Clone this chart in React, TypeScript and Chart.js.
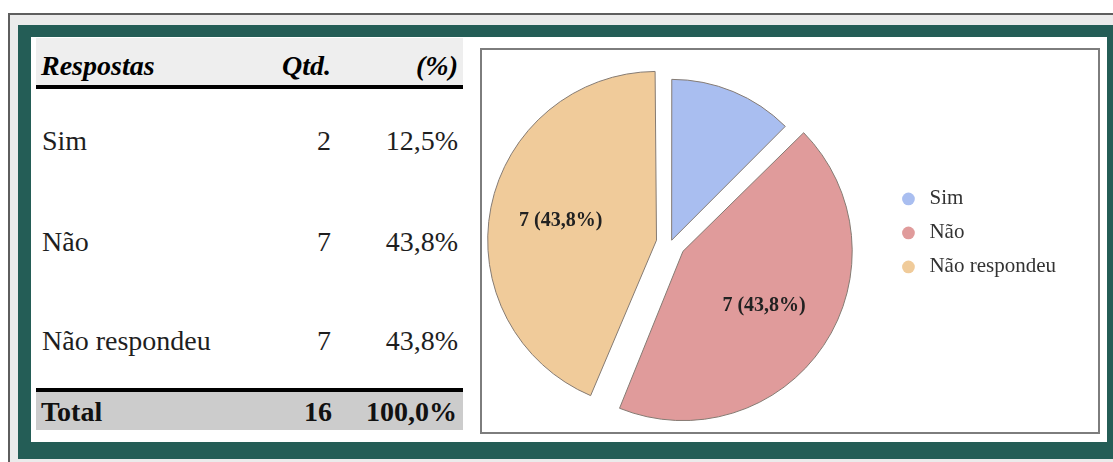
import React, { useEffect, useRef } from 'react';
import Chart from 'chart.js/auto';

const categories = ['Sim', 'Não', 'Não respondeu'];
const counts = [2, 7, 7];
const sliceColors = ['#a9bef0', '#e09b9b', '#f0cb9a'];
const sliceOffsets = [12, 60, 57];
const headers = ['Respostas', 'Qtd.', '(%)'];
const totalLabel = 'Total';

const SERIF = '"Liberation Serif", "Times New Roman", serif';
const TEAL = '#245d56';

const total = counts.reduce((a, b) => a + b, 0);
const pct = (v: number) => ((v * 100) / total).toFixed(1).replace('.', ',') + '%';

type TxtProps = {
  x: number;
  baseline: number;
  align?: 'left' | 'right';
  bold?: boolean;
  italic?: boolean;
  size?: number;
  color?: string;
  children: React.ReactNode;
};

function Txt({ x, baseline, align = 'left', bold, italic, size = 28, color = '#1e1e1e', children }: TxtProps) {
  const lh = Math.round(size * 1.15);
  const top = baseline - ((lh - size * 1.107) / 2 + size * 0.891);
  const style: React.CSSProperties = {
    position: 'absolute',
    top,
    lineHeight: lh + 'px',
    fontSize: size,
    fontFamily: SERIF,
    fontWeight: bold ? 'bold' : 'normal',
    fontStyle: italic ? 'italic' : 'normal',
    color,
    whiteSpace: 'nowrap',
  };
  if (align === 'left') {
    style.left = x;
  } else {
    style.left = x - 300;
    style.width = 300;
    style.textAlign = 'right';
  }
  return <div style={style}>{children}</div>;
}

const sliceLabelPlugin = {
  id: 'sliceLabels',
  afterDatasetsDraw(chart: any) {
    const ctx = chart.ctx;
    const meta = chart.getDatasetMeta(0);
    const data = chart.data.datasets[0].data as number[];
    const sum = data.reduce((a, b) => a + b, 0);
    ctx.save();
    ctx.font = 'bold 20px ' + SERIF;
    ctx.fillStyle = '#222';
    ctx.textAlign = 'center';
    ctx.textBaseline = 'middle';
    meta.data.forEach((arc: any, i: number) => {
      const share = data[i] / sum;
      if (share < 0.2) return;
      const { x, y, startAngle, endAngle, outerRadius } = arc.getProps(
        ['x', 'y', 'startAngle', 'endAngle', 'outerRadius'],
        true
      );
      const mid = (startAngle + endAngle) / 2;
      const off = (arc.options.offset || 0) / 4;
      const r = off + outerRadius * 0.61;
      const label = `${data[i]} (${(share * 100).toFixed(1).replace('.', ',')}%)`;
      ctx.fillText(label, x + Math.cos(mid) * r, y + Math.sin(mid) * r);
    });
    ctx.restore();
  },
};

export default function App() {
  const ref = useRef<HTMLCanvasElement>(null);

  useEffect(() => {
    const canvas = ref.current!;
    const baseGen = (Chart as any).overrides.pie.plugins.legend.labels.generateLabels;
    const chart = new Chart(canvas, {
      type: 'pie',
      data: {
        labels: categories,
        datasets: [
          {
            data: counts,
            backgroundColor: sliceColors,
            borderColor: '#857b73',
            borderWidth: 1,
            offset: sliceOffsets,
            radius: 160,
          } as any,
        ],
      },
      options: {
        responsive: false,
        animation: false,
        events: [],
        layout: { padding: { top: 4, bottom: 0, left: 0, right: 0 } },
        plugins: {
          tooltip: { enabled: false },
          legend: {
            position: 'right',
            align: 'start',
            title: {
              display: true,
              text: '',
              font: { size: 12 },
              padding: { top: 107, bottom: 0 } as any,
            },
            labels: {
              usePointStyle: true,
              pointStyle: 'circle',
              boxWidth: 21,
              boxHeight: 9,
              padding: 13,
              color: '#333',
              font: { family: SERIF, size: 21 },
              generateLabels: (c: any) =>
                baseGen(c).map((l: any) => ({ ...l, lineWidth: 0, strokeStyle: 'rgba(0,0,0,0)' })),
            },
          },
        },
      } as any,
      plugins: [sliceLabelPlugin],
    });
    return () => chart.destroy();
  }, []);

  const rowBaselines = [150, 251, 350];

  return (
    <div style={{ position: 'fixed', inset: 0, overflow: 'hidden', background: '#fff' }}>
      <div
        style={{
          position: 'absolute',
          left: 8,
          top: 13,
          width: 1200,
          height: 500,
          background: '#ebebeb',
          borderLeft: '2px solid #5e5e5e',
          borderTop: '2px solid #5e5e5e',
          boxSizing: 'border-box',
        }}
      />
      <div style={{ position: 'absolute', left: 18, top: 25, width: 1200, height: 434, background: TEAL }} />
      <div style={{ position: 'absolute', left: 31, top: 37, width: 1076, height: 405, background: '#fff' }} />

      {/* table */}
      <div style={{ position: 'absolute', left: 36, top: 38, width: 427, height: 47, background: '#eeeeee' }} />
      <div style={{ position: 'absolute', left: 36, top: 85, width: 427, height: 4, background: '#000' }} />
      <Txt x={41} baseline={75} bold italic color="#000">{headers[0]}</Txt>
      <Txt x={331} baseline={75} align="right" bold italic color="#000">{headers[1]}</Txt>
      <Txt x={458} baseline={75} align="right" bold italic color="#000">{headers[2]}</Txt>

      {categories.map((c, i) => (
        <React.Fragment key={c}>
          <Txt x={42} baseline={rowBaselines[i]}>{c}</Txt>
          <Txt x={331} baseline={rowBaselines[i]} align="right">{counts[i]}</Txt>
          <Txt x={458} baseline={rowBaselines[i]} align="right">{pct(counts[i])}</Txt>
        </React.Fragment>
      ))}

      <div style={{ position: 'absolute', left: 36, top: 388, width: 427, height: 4, background: '#000' }} />
      <div style={{ position: 'absolute', left: 36, top: 392, width: 427, height: 38, background: '#cccccc' }} />
      <Txt x={41} baseline={421} bold color="#111">{totalLabel}</Txt>
      <Txt x={332} baseline={421} align="right" bold color="#111">{total}</Txt>
      <Txt x={457} baseline={421} align="right" bold color="#111">{pct(total)}</Txt>

      {/* chart box */}
      <div
        style={{
          position: 'absolute',
          left: 480,
          top: 48,
          width: 620,
          height: 386,
          border: '2px solid #7d7d7d',
          boxSizing: 'border-box',
          background: '#fff',
        }}
      />
      <canvas
        ref={ref}
        width={610}
        height={382}
        style={{ position: 'absolute', left: 456, top: 50, width: 610, height: 382 }}
      />
    </div>
  );
}
